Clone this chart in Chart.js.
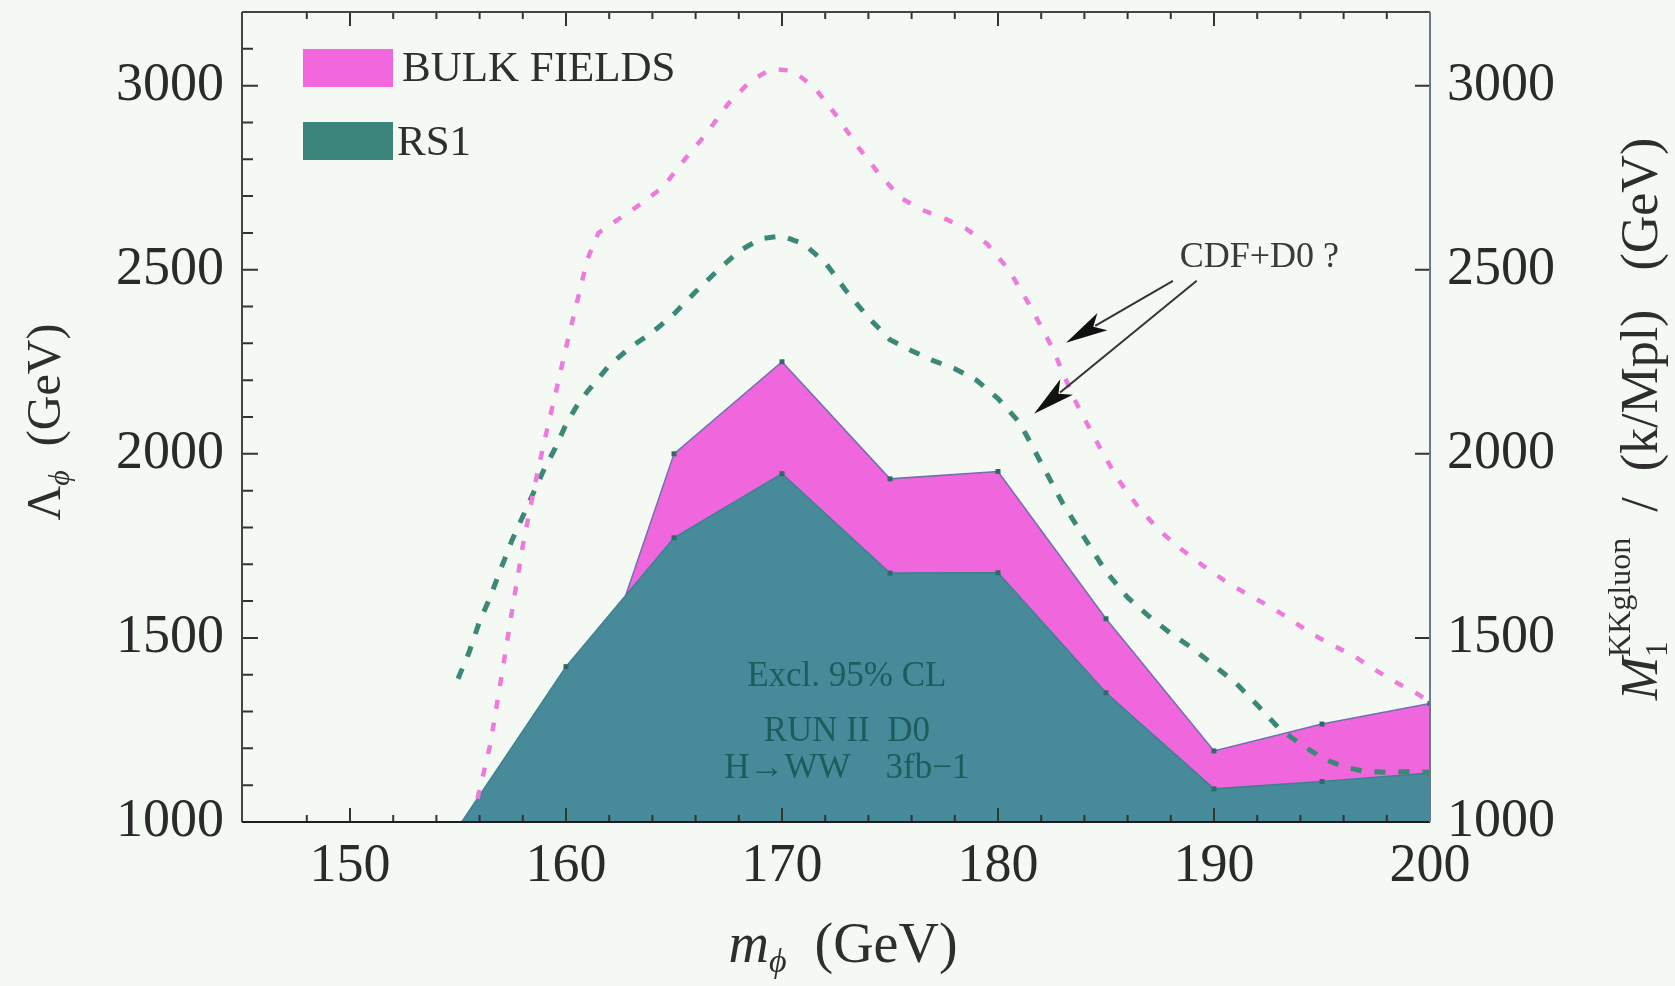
<!DOCTYPE html>
<html>
<head>
<meta charset="utf-8">
<script src="https://cdn.jsdelivr.net/npm/chart.js@4.4.1/dist/chart.umd.min.js"></script>
<style>
  html, body { margin: 0; padding: 0; background: #f4f9f3; }
  #wrap { width: 1675px; height: 986px; }
</style>
</head>
<body>
<div id="wrap"><canvas id="myChart" width="1675" height="986"></canvas></div>
<script>
// excluded regions (95% CL), RUN II D0, H->WW 3fb-1
const bulkMass = [160, 165, 170, 175, 180, 185, 190, 195, 200];
const bulk     = [1140, 2000, 2250, 1932, 1952, 1552, 1193, 1266, 1322];
const rs1Mass  = [155, 160, 165, 170, 175, 180, 185, 190, 195, 200];
const rs1      = [985, 1422, 1772, 1946, 1676, 1677, 1351, 1090, 1110, 1133];

// CDF+D0 ? projections (dashed)
const cdfBulkMass = [155.9, 156.5, 157, 157.5, 158, 158.5, 159, 159.5, 160, 160.5, 161, 161.5,
  162.5, 163.5, 164.5, 165.5, 166.5, 167.5, 168.5, 169.5, 170.5, 171.5, 172.5, 173.5, 174.5,
  175.5, 176.5, 177.5, 178.5, 179.5, 180.5, 181.5, 182.5, 183.5, 184.5, 185.5, 186.5, 187.5,
  188.5, 189.5, 190.5, 191.5, 192.5, 193.5, 194.5, 195.5, 196.5, 197.5, 198.5, 199.5, 200];
const cdfBulk = [1063, 1212, 1390, 1573, 1750, 1900, 2035, 2160, 2288, 2410, 2530, 2600,
  2640, 2680, 2725, 2800, 2870, 2950, 3010, 3046, 3040, 2995, 2920, 2835, 2760,
  2695, 2662, 2640, 2612, 2570, 2500, 2400, 2290, 2152, 2040, 1935, 1855, 1790,
  1740, 1696, 1655, 1620, 1588, 1552, 1512, 1480, 1450, 1412, 1377, 1345, 1325];
const cdfRs1Mass = [155, 155.5, 156, 156.5, 157, 157.5, 158, 158.5, 159, 159.5, 160, 160.5, 161,
  161.5, 162, 163, 164, 165, 166, 167, 168, 169, 170, 171, 172, 173, 174, 175, 176, 177, 178,
  179, 180, 181, 182, 183, 184, 185, 186, 187, 188, 189, 190, 191, 192, 193, 194, 195, 196,
  197, 198, 199, 200];
const cdfRs1 = [1389, 1459, 1545, 1612, 1690, 1765, 1830, 1895, 1960, 2015, 2080, 2130, 2170,
  2205, 2240, 2290, 2330, 2380, 2440, 2497, 2550, 2584, 2592, 2570, 2520, 2440, 2370, 2310, 2280,
  2253, 2231, 2200, 2150, 2085, 1975, 1865, 1772, 1680, 1610, 1558, 1512, 1472, 1425, 1378, 1318,
  1255, 1212, 1174, 1150, 1137, 1135, 1137, 1135];

const xTicks = [150, 160, 170, 180, 190, 200];
const yTicks = [1000, 1500, 2000, 2500, 3000];

const SERIF = '"Liberation Serif", "DejaVu Serif", serif';

function pts(xs, ys) {
  return xs.map((x, i) => ({x: x, y: ys[i]}));
}

function noPad(s) {
  s.paddingTop = 0;
  s.paddingBottom = 0;
  s.paddingLeft = 0;
  s.paddingRight = 0;
}

function richText(ctx, parts, cx, cy, angle) {
  ctx.save();
  ctx.translate(cx, cy);
  ctx.rotate(angle);
  ctx.textBaseline = 'alphabetic';
  ctx.textAlign = 'left';
  let total = 0;
  const widths = parts.map(p => {
    ctx.font = (p.italic ? 'italic ' : '') + p.size + 'px ' + SERIF;
    const w = ctx.measureText(p.t).width;
    if (!p.stack) total += w;
    return w;
  });
  let pos = -total / 2;
  parts.forEach((p, i) => {
    ctx.font = (p.italic ? 'italic ' : '') + p.size + 'px ' + SERIF;
    ctx.fillText(p.t, pos, p.dy || 0);
    if (!p.stack) pos += widths[i];
  });
  ctx.restore();
}

function arrow(ctx, x1, y1, x2, y2) {
  const ang = Math.atan2(y2 - y1, x2 - x1);
  const len = 42, half = 10;
  ctx.beginPath();
  ctx.moveTo(x1, y1);
  ctx.lineTo(x2 - Math.cos(ang) * len * 0.8, y2 - Math.sin(ang) * len * 0.8);
  ctx.stroke();
  ctx.beginPath();
  ctx.moveTo(x2, y2);
  ctx.lineTo(x2 - Math.cos(ang) * len - Math.sin(ang) * half, y2 - Math.sin(ang) * len + Math.cos(ang) * half);
  ctx.lineTo(x2 - Math.cos(ang) * len * 0.75, y2 - Math.sin(ang) * len * 0.75);
  ctx.lineTo(x2 - Math.cos(ang) * len + Math.sin(ang) * half, y2 - Math.sin(ang) * len - Math.cos(ang) * half);
  ctx.closePath();
  ctx.fill();
}

const decor = {
  id: 'decor',
  beforeDraw(chart) {
    const ctx = chart.ctx;
    ctx.save();
    ctx.fillStyle = '#f4f9f3';
    ctx.fillRect(0, 0, chart.width, chart.height);
    ctx.restore();
  },
  afterDatasetsDraw(chart) {
    const {ctx, chartArea: a, scales: {x, y, y2}} = chart;
    ctx.save();
    // inner texts
    ctx.fillStyle = 'rgba(25, 88, 88, 0.9)';
    ctx.font = '35px ' + SERIF;
    ctx.textAlign = 'center';
    ctx.textBaseline = 'alphabetic';
    ctx.fillText('Excl. 95% CL', x.getPixelForValue(173), y.getPixelForValue(1370));
    ctx.fillText('RUN II  D0', x.getPixelForValue(173), y.getPixelForValue(1220));
    ctx.fillText('H\u2192WW    3fb\u22121', x.getPixelForValue(173), y.getPixelForValue(1120));

    // CDF+D0 label and arrows
    ctx.fillStyle = '#3a3a3a';
    ctx.font = '36px ' + SERIF;
    ctx.fillText('CDF+D0 ?', x.getPixelForValue(192.1), y.getPixelForValue(2508));
    ctx.strokeStyle = '#333';
    ctx.fillStyle = '#111';
    ctx.lineWidth = 2;
    arrow(ctx, x.getPixelForValue(188.1), y.getPixelForValue(2470), x.getPixelForValue(183.15), y.getPixelForValue(2302));
    arrow(ctx, x.getPixelForValue(189.2), y.getPixelForValue(2470), x.getPixelForValue(181.67), y.getPixelForValue(2109));

    // tick marks pointing inward
    ctx.strokeStyle = '#333';
    ctx.lineWidth = 2;
    ctx.beginPath();
    x.ticks.forEach(t => {
      const v = t.value;
      if (Math.abs(v % 2) > 1e-6) return;
      const px = x.getPixelForValue(v);
      const len = v % 10 === 0 ? 14 : 7;
      ctx.moveTo(px, a.bottom); ctx.lineTo(px, a.bottom - len);
      ctx.moveTo(px, a.top); ctx.lineTo(px, a.top + len);
    });
    y.ticks.forEach(t => {
      const py = y.getPixelForValue(t.value);
      const len = t.value % 500 === 0 ? 16 : 11;
      ctx.moveTo(a.left, py); ctx.lineTo(a.left + len, py);
    });
    y2.ticks.forEach(t => {
      const py = y2.getPixelForValue(t.value);
      ctx.moveTo(a.right, py); ctx.lineTo(a.right - 15, py);
    });
    ctx.stroke();

    // frame
    ctx.lineWidth = 2;
    ctx.strokeStyle = '#444';
    ctx.beginPath();
    ctx.moveTo(a.left, a.top); ctx.lineTo(a.left, a.bottom);
    ctx.moveTo(a.left, a.top); ctx.lineTo(a.right, a.top);
    ctx.stroke();
    ctx.strokeStyle = '#1e1e1e';
    ctx.beginPath();
    ctx.moveTo(a.left, a.bottom); ctx.lineTo(a.right, a.bottom);
    ctx.stroke();
    ctx.strokeStyle = '#6a7888';
    ctx.beginPath();
    ctx.moveTo(a.right, a.top); ctx.lineTo(a.right, a.bottom);
    ctx.stroke();
    ctx.restore();
  },
  afterDraw(chart) {
    const ctx = chart.ctx;
    ctx.save();
    // legend
    ctx.fillStyle = '#f266de';
    ctx.fillRect(303, 49, 90, 38);
    ctx.fillStyle = '#3b857a';
    ctx.fillRect(303, 122, 90, 38);
    ctx.fillStyle = '#2e2e2e';
    ctx.font = '43px ' + SERIF;
    ctx.textAlign = 'left';
    ctx.textBaseline = 'alphabetic';
    ctx.fillText('BULK FIELDS', 402, 81);
    ctx.fillText('RS1', 397, 155);

    // axis titles
    ctx.fillStyle = '#2e2e2e';
    richText(ctx, [
      {t: '\u039B', size: 48},
      {t: '\u03D5', size: 30, italic: true, dy: 9},
      {t: '  (GeV)', size: 48}
    ], 60, 422, -Math.PI / 2);
    richText(ctx, [
      {t: 'm', size: 56, italic: true},
      {t: '\u03D5', size: 34, italic: true, dy: 10},
      {t: '  (GeV)', size: 56}
    ], 843, 962, 0);
    richText(ctx, [
      {t: 'M', size: 52, italic: true},
      {t: '1', size: 31, dy: 10, stack: true},
      {t: 'KKgluon', size: 32, dy: -27},
      {t: '  /  (k/Mpl)   (GeV)', size: 52}
    ], 1657, 419, -Math.PI / 2);
    ctx.restore();
  }
};

const ctx = document.getElementById('myChart');

const myChart = new Chart(ctx, {
  type: 'line',
  data: {
    datasets: [
      {
        label: 'CDF+D0 ? (bulk)',
        data: pts(cdfBulkMass, cdfBulk),
        borderColor: '#ef7ade',
        borderWidth: 4.5,
        borderDash: [9, 14],
        pointRadius: 0,
        fill: false,
        tension: 0,
        order: 0
      },
      {
        label: 'CDF+D0 ? (RS1)',
        data: pts(cdfRs1Mass, cdfRs1),
        borderColor: '#3b8877',
        borderWidth: 5,
        borderDash: [11, 13],
        pointRadius: 0,
        fill: false,
        tension: 0,
        order: 1
      },
      {
        label: 'RS1',
        data: pts(rs1Mass, rs1),
        borderColor: '#3e8090',
        borderWidth: 1.5,
        backgroundColor: '#478a9a',
        fill: 'start',
        pointStyle: 'rect',
        pointRadius: 3.5,
        pointBackgroundColor: '#2d6b66',
        pointBorderWidth: 0,
        tension: 0,
        order: 2
      },
      {
        label: 'BULK FIELDS',
        data: pts(bulkMass, bulk),
        borderColor: '#6f70b0',
        borderWidth: 1.5,
        backgroundColor: '#f066dc',
        fill: 'start',
        pointStyle: 'rect',
        pointRadius: 3.5,
        pointBackgroundColor: '#2d6b66',
        pointBorderWidth: 0,
        tension: 0,
        order: 3
      }
    ]
  },
  options: {
    responsive: false,
    animation: false,
    devicePixelRatio: 1,
    layout: { padding: { top: 12, left: 0, right: 0, bottom: 0 } },
    plugins: {
      legend: { display: false },
      tooltip: { enabled: false }
    },
    scales: {
      x: {
        type: 'linear',
        position: 'bottom',
        min: 145,
        max: 200,
        grid: { display: false, drawTicks: false },
        border: { display: false },
        ticks: {
          stepSize: 2,
          autoSkip: false,
          maxRotation: 0,
          padding: 12,
          color: '#2a2a2a',
          font: { family: SERIF, size: 54 },
          callback: v => xTicks.includes(v) ? String(v) : ''
        },
        afterFit: s => { s.height = 164; noPad(s); }
      },
      y: {
        position: 'left',
        min: 1000,
        max: 3200,
        grid: { display: false, drawTicks: false },
        border: { display: false },
        ticks: {
          stepSize: 100,
          autoSkip: false,
          padding: 18,
          color: '#2a2a2a',
          font: { family: SERIF, size: 54 },
          callback: v => yTicks.includes(v) ? String(v) : ''
        },
        afterFit: s => { s.width = 242; noPad(s); }
      },
      y2: {
        position: 'right',
        min: 1000,
        max: 3200,
        grid: { display: false, drawTicks: false },
        border: { display: false },
        afterBuildTicks: s => { s.ticks = yTicks.map(v => ({value: v})); },
        ticks: {
          autoSkip: false,
          padding: 17,
          color: '#2a2a2a',
          font: { family: SERIF, size: 54 },
          callback: v => String(v)
        },
        afterFit: s => { s.width = 245; noPad(s); }
      }
    }
  },
  plugins: [decor]
});
</script>
</body>
</html>
